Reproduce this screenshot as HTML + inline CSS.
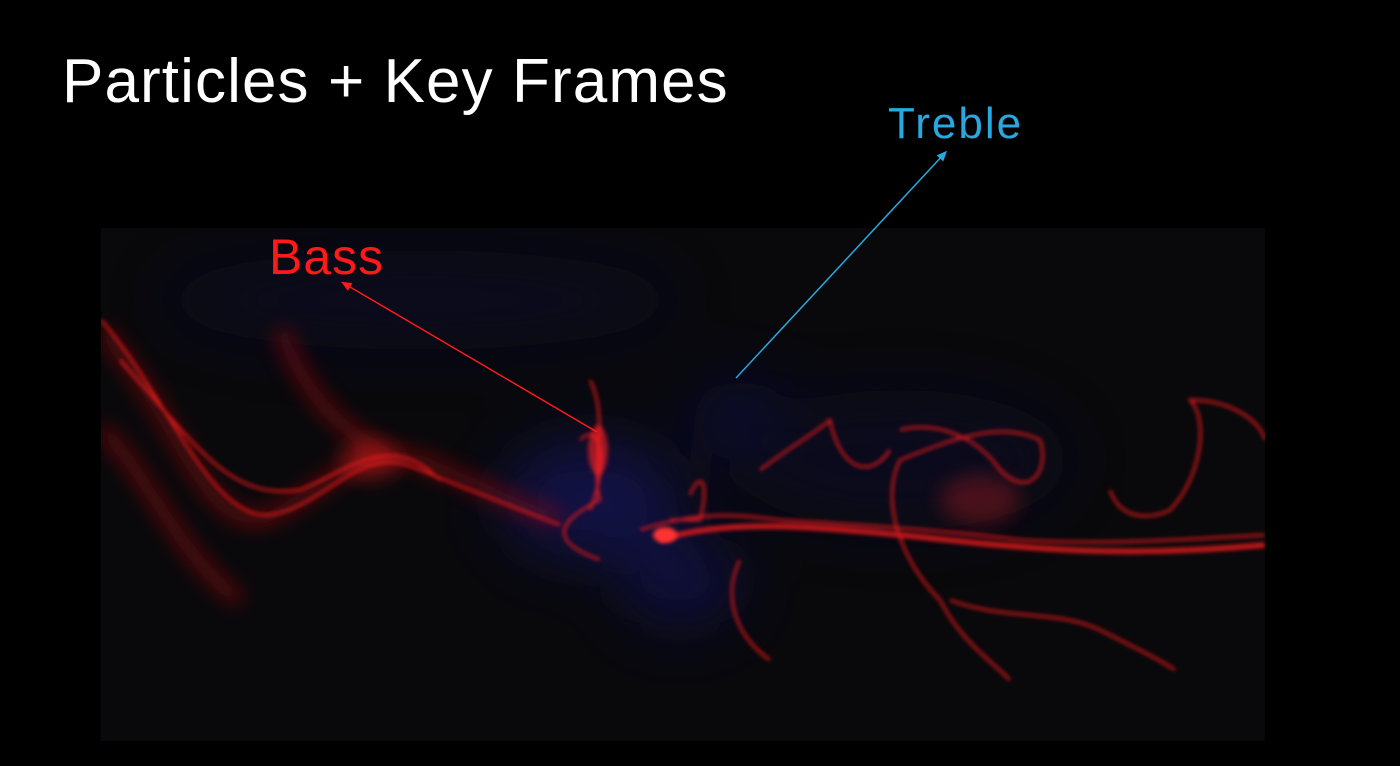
<!DOCTYPE html>
<html><head><meta charset="utf-8"><style>
html,body{margin:0;padding:0;background:#000;width:1400px;height:766px;overflow:hidden}
svg{display:block}
</style></head><body>
<svg width="1400" height="766" viewBox="0 0 1400 766">
<defs>
<filter id="b1" x="-20%" y="-20%" width="140%" height="140%"><feGaussianBlur stdDeviation="2"/></filter>
<filter id="b2" x="-50%" y="-50%" width="200%" height="200%"><feGaussianBlur stdDeviation="10"/></filter>
<filter id="b3" x="-50%" y="-50%" width="200%" height="200%"><feGaussianBlur stdDeviation="30"/></filter>
<clipPath id="cp"><rect x="101" y="228" width="1164" height="513"/></clipPath>
<marker id="ar" markerWidth="8" markerHeight="8" refX="4" refY="4" orient="auto"><path d="M0,1 L7,4 L0,7 z" fill="#ff1a1a"/></marker>
<marker id="ab" markerWidth="8" markerHeight="8" refX="4" refY="4" orient="auto"><path d="M0,1 L7,4 L0,7 z" fill="#29a8e0"/></marker>
</defs>
<text x="62" y="102" fill="#fff" font-family="Liberation Sans, sans-serif" font-size="62" font-weight="normal" letter-spacing="1.1">Particles + Key Frames</text>
<g>
<rect x="101" y="228" width="1164" height="513" fill="#09090c"/>
<g clip-path="url(#cp)">
<g filter="url(#b3)" opacity="0.45">
<ellipse cx="420" cy="300" rx="260" ry="50" fill="#0a0a30"/>
<ellipse cx="590" cy="500" rx="90" ry="60" fill="#1a1a8a"/>
<ellipse cx="680" cy="580" rx="60" ry="45" fill="#15157a"/>
<ellipse cx="740" cy="420" rx="50" ry="40" fill="#101060"/>
<ellipse cx="900" cy="460" rx="170" ry="70" fill="#0a0a30"/>
</g>
<g filter="url(#b2)" opacity="0.5" stroke="#c01010" fill="none" stroke-width="14">
<path d="M101,330 C180,420 200,520 260,520 C320,500 350,440 420,460 C470,480 500,500 560,520"/>
<path d="M101,430 C140,460 180,560 240,600"/>
<path d="M280,330 C300,380 330,430 400,460"/>
</g>
<g filter="url(#b1)" stroke="#ff1f1f" fill="none" stroke-width="2.5" opacity="0.85">
<path d="M101,320 C170,400 210,520 270,515 C330,505 360,440 420,470 C470,490 520,510 560,525"/>
<path d="M120,360 C200,450 230,500 300,490 C350,470 390,430 440,480"/>
<path d="M590,380 C610,420 590,470 600,500 C560,520 545,540 600,560"/>
<path d="M580,440 C600,420 610,460 590,510"/>
<path d="M640,530 C700,510 740,515 780,520 C860,525 940,530 1020,540 C1100,545 1180,540 1265,535"/>
<path d="M660,540 C720,520 800,525 900,535 C1000,545 1100,560 1265,545" stroke-width="5"/>
<path d="M900,430 C940,420 980,440 1000,470 C1030,500 1050,470 1040,440 C1000,420 950,440 900,460 C880,500 900,560 940,600 C960,640 990,660 1010,680"/>
<path d="M760,470 C800,440 820,430 830,420 C840,470 870,480 890,450"/>
<path d="M740,560 C720,600 740,640 770,660"/>
<path d="M950,600 C1000,620 1060,610 1100,630 C1140,650 1160,660 1175,670"/>
<path d="M1110,490 C1120,520 1150,520 1170,510 C1200,480 1210,420 1190,400 C1230,400 1260,420 1265,440"/>
<path d="M690,495 C700,470 710,480 700,520 L670,520"/>
</g>
<ellipse cx="665" cy="535" rx="12" ry="8" fill="#ff3030" filter="url(#b1)"/>
<ellipse cx="598" cy="450" rx="10" ry="25" fill="#ff2020" opacity="0.6" filter="url(#b1)"/>
<ellipse cx="370" cy="460" rx="30" ry="20" fill="#ff2020" opacity="0.35" filter="url(#b2)"/>
<ellipse cx="980" cy="500" rx="40" ry="25" fill="#ff2020" opacity="0.25" filter="url(#b2)"/>
</g>
</g>
<line x1="597" y1="432" x2="345" y2="284" stroke="#ff1a1a" stroke-width="1.5" marker-end="url(#ar)"/>
<line x1="736" y1="378" x2="944" y2="154" stroke="#29a8e0" stroke-width="1.5" marker-end="url(#ab)"/>
<text x="269" y="274" fill="#ff1a1a" font-family="Liberation Sans, sans-serif" font-size="50" letter-spacing="1">Bass</text>
<text x="888" y="138" fill="#29a8e0" font-family="Liberation Sans, sans-serif" font-size="44" letter-spacing="2">Treble</text>
</svg>
</body></html>
